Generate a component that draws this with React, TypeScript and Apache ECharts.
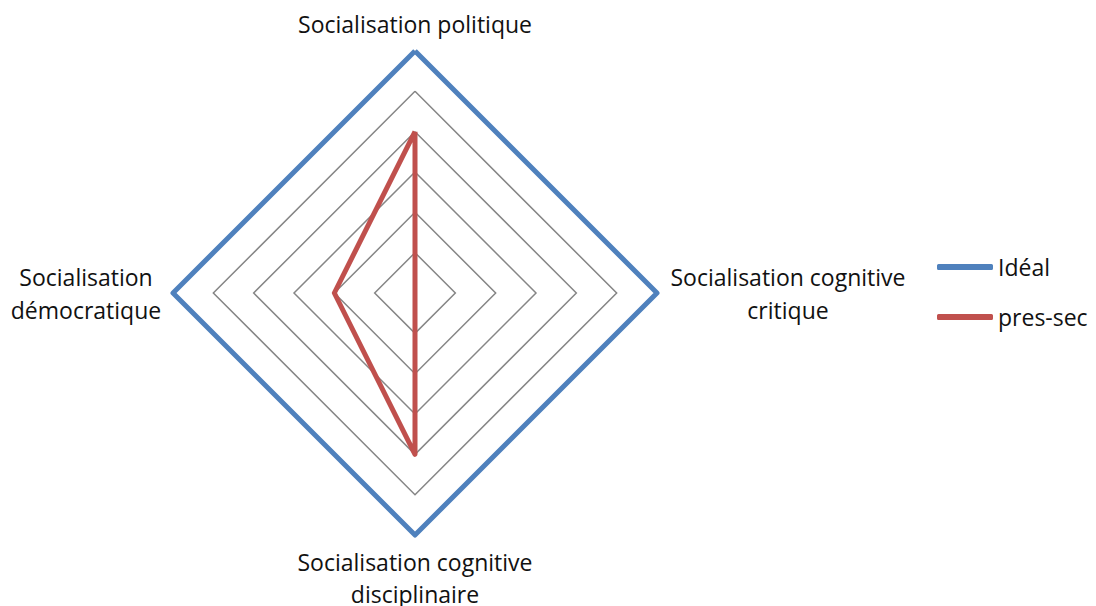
import React, { useEffect, useRef } from "react";
import * as echarts from "echarts";

const indicatorNames = [
  "Socialisation politique",
  "Socialisation démocratique",
  "Socialisation cognitive disciplinaire",
  "Socialisation cognitive critique",
];
const maxValue = 6;
const seriesNames = ["Idéal", "pres-sec"];
const idealValues = [6, 6, 6, 6];
const presSecValues = [4, 2, 4, 0];
const colors = ["#4F81BD", "#C0504D"];

const FONT = "Open Sans";
const FS = 23;

const labelFormat: Record<string, string> = {
  "Socialisation politique": "{t|Socialisation politique}",
  "Socialisation démocratique": "{l|Socialisation}\n{l|démocratique}",
  "Socialisation cognitive disciplinaire": "{b|Socialisation cognitive}\n{b|disciplinaire}",
  "Socialisation cognitive critique": "{r|Socialisation cognitive}\n{r|critique}",
};

export default function App() {
  const ref = useRef<HTMLDivElement>(null);
  useEffect(() => {
    if (!ref.current) return;
    const chart = echarts.init(ref.current, undefined, { renderer: "svg" });
    const txt = { fontFamily: FONT, fontSize: FS, color: "#111", lineHeight: 33 };
    chart.setOption({
      animation: false,
      backgroundColor: "#fff",
      legend: {
        orient: "vertical",
        left: 929,
        top: 247,
        itemWidth: 56,
        itemHeight: 6,
        itemGap: 26,
        icon: "roundRect",
        padding: 0,
        textStyle: { fontFamily: FONT, fontSize: FS, color: "#111", lineHeight: 24 },
        data: seriesNames,
      },
      radar: {
        center: [407, 285],
        radius: 242,
        startAngle: 90,
        shape: "polygon",
        splitNumber: 6,
        nameGap: 11,
        indicator: indicatorNames.map((n) => ({ name: n, max: maxValue, min: 0 })),
        axisName: {
          formatter: (n: string) => labelFormat[n] ?? n,
          rich: {
            t: { ...txt, align: "center" },
            l: { ...txt, width: 152, align: "center" },
            r: { ...txt, width: 240, align: "center" },
            b: { ...txt, width: 240, align: "center", lineHeight: 32 },
          },
        },
        axisLine: { show: false },
        axisTick: { show: false },
        splitArea: { show: false },
        splitLine: { lineStyle: { color: "#868686", width: 1.5 } },
      },
      series: [
        {
          type: "radar",
          symbol: "none",
          data: [
            {
              name: seriesNames[0],
              value: idealValues,
              lineStyle: { color: colors[0], width: 5 },
              itemStyle: { color: colors[0] },
            },
            {
              name: seriesNames[1],
              value: presSecValues,
              lineStyle: { color: colors[1], width: 5 },
              itemStyle: { color: colors[1] },
            },
          ],
        },
      ],
    });
    return () => chart.dispose();
  }, []);
  return <div ref={ref} style={{ width: 1080, height: 598 }} />;
}
